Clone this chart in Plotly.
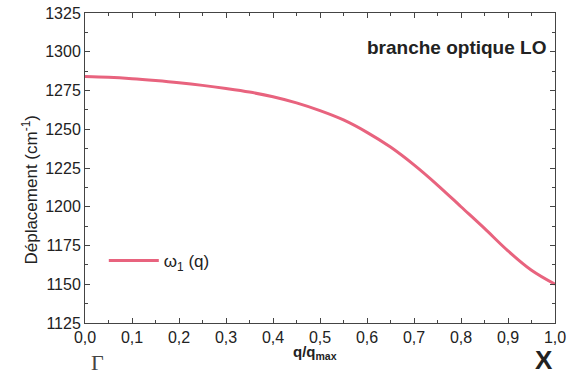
import plotly.graph_objects as go

# curve
q = [0.0, 0.05, 0.1, 0.15, 0.2, 0.25, 0.3, 0.35, 0.4, 0.45, 0.5, 0.55, 0.6,
     0.65, 0.7, 0.75, 0.8, 0.85, 0.9, 0.95, 1.0]
omega = [1284.0, 1283.5, 1282.6, 1281.4, 1280.0, 1278.3, 1276.3, 1274.0, 1271.0,
         1267.0, 1262.0, 1256.0, 1248.0, 1238.5, 1227.0, 1214.0, 1200.0, 1186.0,
         1171.5, 1159.0, 1150.0]

x_ticks = [i / 10 for i in range(11)]
x_labels = ["0,0", "0,1", "0,2", "0,3", "0,4", "0,5", "0,6", "0,7", "0,8", "0,9", "1,0"]
y_ticks = list(range(1125, 1326, 25))

line_color = "#e8637e"
font_family = "Liberation Sans, Arial, sans-serif"

fig = go.Figure()
fig.add_trace(go.Scatter(x=q, y=omega, mode="lines", line=dict(color=line_color, width=3),
                         line_shape="spline", name="ω<sub>1</sub> (q)"))

axis_common = dict(showline=True, linecolor="#444", linewidth=1, mirror="ticks",
                   ticks="inside", ticklen=5, tickcolor="#444", showgrid=False,
                   zeroline=False, automargin=False,
                   tickfont=dict(family=font_family, size=16, color="#222"))

fig.update_xaxes(range=[0, 1], tickvals=x_ticks, ticktext=x_labels,
                 minor=dict(ticks="inside", ticklen=3, dtick=0.05, tickcolor="#444"),
                 **axis_common)
fig.update_yaxes(range=[1125, 1325], tickvals=y_ticks,
                 minor=dict(ticks="inside", ticklen=3, dtick=12.5, tick0=1125, tickcolor="#444"),
                 **axis_common)

fig.add_annotation(xref="paper", yref="paper", x=-0.145, y=0.43, textangle=-90,
                   text="Déplacement (cm<sup>-1</sup>)", showarrow=False,
                   font=dict(family=font_family, size=17, color="#222"))
fig.add_annotation(xref="paper", yref="paper", x=0.985, y=0.929, xanchor="right",
                   text="<b>branche optique LO</b>", showarrow=False,
                   font=dict(family=font_family, size=19, color="#222"))
fig.add_annotation(xref="paper", yref="paper", x=0.49, y=-0.094, yanchor="middle",
                   text="<b>q/q<sub>max</sub></b>", showarrow=False,
                   font=dict(family=font_family, size=15, color="#222"))
fig.add_annotation(xref="paper", yref="paper", x=0.008, y=-0.126, yanchor="middle",
                   text="Γ", showarrow=False,
                   font=dict(family="Liberation Serif, serif", size=22, color="#444"))
fig.add_annotation(xref="paper", yref="paper", x=1.0, y=-0.119, yanchor="middle",
                   text="<b>X</b>", showarrow=False,
                   font=dict(family=font_family, size=26, color="#222"))

fig.update_layout(
    width=568, height=384,
    margin=dict(l=85, r=13, t=13, b=61),
    paper_bgcolor="white", plot_bgcolor="white",
    showlegend=True,
    legend=dict(x=0.04, y=0.2, xanchor="left", yanchor="middle", itemwidth=50,
                bgcolor="rgba(0,0,0,0)",
                font=dict(family=font_family, size=17, color="#222")),
)

fig.write_html("out.html", config={"displayModeBar": False},
               post_script="document.body.style.margin='0';")
